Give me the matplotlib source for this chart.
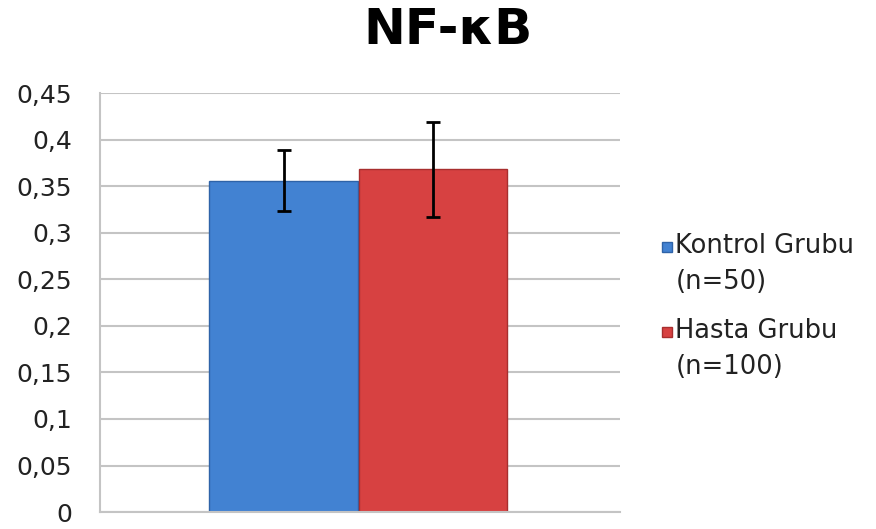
import numpy as np
import matplotlib
matplotlib.use('Agg')
import matplotlib.pyplot as plt
from matplotlib.ticker import FuncFormatter
from matplotlib.patches import Rectangle

groups = ['Kontrol Grubu\n(n=50)', 'Hasta Grubu\n(n=100)']
means = [0.356, 0.368]
errs = [0.033, 0.051]
colors = ['#4282D2', '#D74141']
edges = ['#2E63A8', '#A82E2E']
offsets = [-0.147, 0.14]

fig = plt.figure(figsize=(8.76, 5.29), dpi=100)
ax = fig.add_axes([0.114, 0.032, 0.594, 0.792])

for i in range(len(groups)):
    ax.bar(offsets[i], means[i], width=0.285, color=colors[i], edgecolor=edges[i],
           linewidth=1, zorder=2)
    ax.errorbar(offsets[i], means[i], yerr=errs[i], fmt='none', ecolor='black',
                elinewidth=2, capsize=5, capthick=2, zorder=3)

ax.set_xlim(-0.5, 0.5)
ax.set_ylim(0, 0.45)
ax.set_yticks(np.arange(0, 0.451, 0.05))
ax.yaxis.set_major_formatter(FuncFormatter(lambda v, p: ('%g' % round(v, 2)).replace('.', ',')))
ax.set_xticks([])
ax.tick_params(axis='y', length=0, labelsize=18, colors='#222222', pad=20)
ax.grid(axis='y', color='#c4c4c4', linewidth=1.5, zorder=0)
for s in ['top', 'right']:
    ax.spines[s].set_visible(False)
for s in ['left', 'bottom']:
    ax.spines[s].set_color('#c4c4c4')
    ax.spines[s].set_linewidth(1.5)

fig.text(0.511, 0.944, 'NF-κB', ha='center', va='center', fontsize=36, fontweight='bold')

# legend drawn by hand so the square sits on the first line
leg_y = [0.5595, 0.399]
for i in range(len(groups)):
    fig.text(0.771, leg_y[i], groups[i], ha='left', va='top', fontsize=18.5,
             color='#222222', linespacing=1.5)
    fig.patches.append(Rectangle((0.756, leg_y[i] - 0.036), 0.0115, 0.019,
                                 transform=fig.transFigure, facecolor=colors[i],
                                 edgecolor=edges[i], linewidth=1))

fig.savefig('out.png', dpi=100)
